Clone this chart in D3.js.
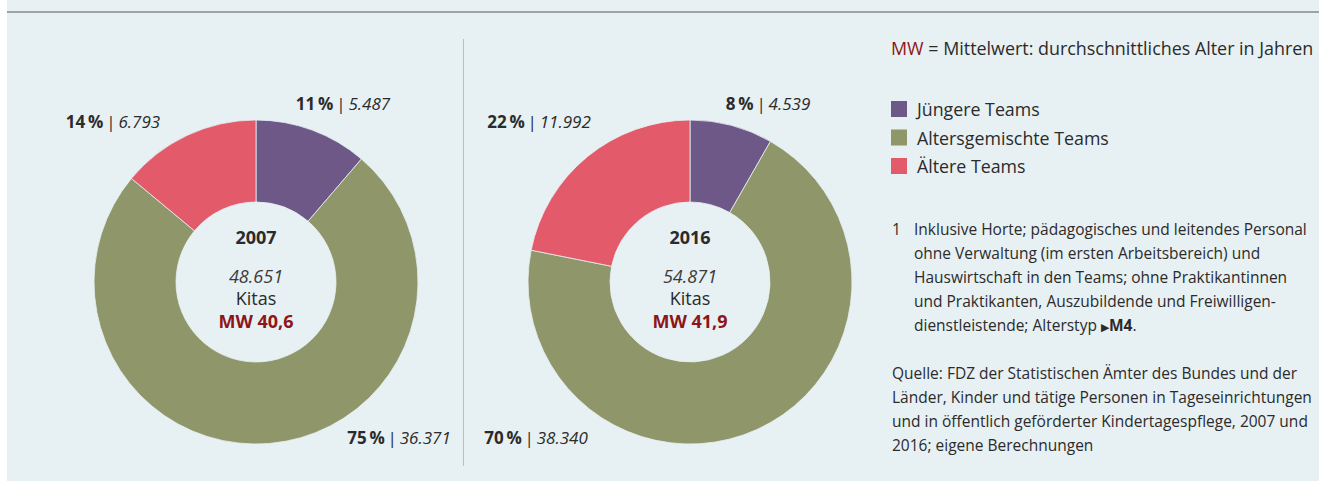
<!DOCTYPE html>
<html lang="de">
<head>
<meta charset="utf-8">
<script src="https://cdn.jsdelivr.net/npm/d3@7"></script>
<style>
  html, body { margin: 0; padding: 0; background: #ffffff; }
  svg { display: block; font-family: "Open Sans", "Noto Sans", sans-serif; }
</style>
</head>
<body>
<svg id="chart" width="1319" height="481"></svg>
<script>
// Team age types of Kitas, 2007 and 2016
const categories = ["Jüngere Teams", "Altersgemischte Teams", "Ältere Teams"];
const colors = ["#6d5888", "#8f966a", "#e35a6a"];
const years = ["2007", "2016"];
const counts2007 = [5487, 36371, 6793];
const counts2016 = [4539, 38340, 11992];
const shares2007 = [11, 75, 14];
const shares2016 = [8, 70, 22];
const totals = [48651, 54871];
const meanAge = ["40,6", "41,9"];

const footnote = [
  "Inklusive Horte; pädagogisches und leitendes Personal",
  "ohne Verwaltung (im ersten Arbeitsbereich) und",
  "Hauswirtschaft in den Teams; ohne Praktikantinnen",
  "und Praktikanten, Auszubildende und Freiwilligen-",
  "dienstleistende; Alterstyp "
];
const source = [
  "Quelle: FDZ der Statistischen Ämter des Bundes und der",
  "Länder, Kinder und tätige Personen in Tageseinrichtungen",
  "und in öffentlich geförderter Kindertagespflege, 2007 und",
  "2016; eigene Berechnungen"
];

const svg = d3.select("#chart");
const fmt = d3.formatLocale({ decimal: ",", thousands: ".", grouping: [3], currency: ["", "€"] }).format(",d");
const textColor = "#2b2b2b";
const mwColor = "#8e1518";

// panel background and top rule
svg.append("rect").attr("x", 7).attr("y", 0).attr("width", 1312).attr("height", 481).attr("fill", "#e7f0f3");
svg.append("rect").attr("x", 7).attr("y", 11).attr("width", 1312).attr("height", 2).attr("fill", "#9ea3a5");

// divider between the two donuts
svg.append("line").attr("x1", 463.5).attr("x2", 463.5).attr("y1", 39).attr("y2", 466)
  .attr("stroke", "#b9bec0").attr("stroke-width", 1);

const pie = d3.pie().sort(null).value(d => d);
const arc = d3.arc().innerRadius(80).outerRadius(162);

const donuts = [
  { year: years[0], counts: counts2007, shares: shares2007, total: totals[0], mw: meanAge[0], cx: 256,
    labelPos: [[87, -177], [143, 157], [-143, -159]] },
  { year: years[1], counts: counts2016, shares: shares2016, total: totals[1], mw: meanAge[1], cx: 690,
    labelPos: [[78, -177], [-154, 157], [-151, -159]] }
];
const cy = 282;

donuts.forEach(dn => {
  const g = svg.append("g").attr("transform", `translate(${dn.cx},${cy})`);
  g.selectAll("path").data(pie(dn.counts)).join("path")
    .attr("d", arc)
    .attr("fill", (d, i) => colors[i])
    .attr("stroke", "#e7f0f3").attr("stroke-width", 0.8);

  // slice labels: share in bold, count in italics
  dn.counts.forEach((c, i) => {
    const t = g.append("text")
      .attr("x", dn.labelPos[i][0]).attr("y", dn.labelPos[i][1])
      .attr("text-anchor", "middle").attr("dominant-baseline", "middle")
      .attr("font-size", 17).attr("fill", textColor);
    t.append("tspan").attr("font-weight", 700).text(dn.shares[i] + "\u2009%");
    t.append("tspan").text("\u2009|\u2009");
    t.append("tspan").attr("font-style", "italic").text(fmt(c));
  });

  // centre text
  const cs = 18;
  g.append("text").attr("y", -38).attr("text-anchor", "middle").attr("font-size", cs)
    .attr("font-weight", 700).attr("fill", textColor).text(dn.year);
  g.append("text").attr("y", 1).attr("text-anchor", "middle").attr("font-size", cs)
    .attr("font-style", "italic").attr("fill", "#3a3a3a").text(fmt(dn.total));
  g.append("text").attr("y", 23).attr("text-anchor", "middle").attr("font-size", cs)
    .attr("fill", textColor).text("Kitas");
  g.append("text").attr("y", 46).attr("text-anchor", "middle").attr("font-size", cs)
    .attr("font-weight", 700).attr("fill", mwColor).text("MW " + dn.mw);
});

// legend
const lx = 891;
const mwLine = svg.append("text").attr("x", lx).attr("y", 55).attr("font-size", 17.9).attr("fill", textColor);
mwLine.append("tspan").attr("fill", mwColor).text("MW");
mwLine.append("tspan").text(" = Mittelwert: durchschnittliches Alter in Jahren");

const legend = svg.append("g");
categories.forEach((c, i) => {
  const y = 101 + i * 28.5;
  legend.append("rect").attr("x", lx).attr("y", y).attr("width", 16).attr("height", 16).attr("fill", colors[i]);
  legend.append("text").attr("x", 917).attr("y", y + 15).attr("font-size", 17.8).attr("fill", textColor).text(c);
});

// footnote and source
const fs = 15.5;
svg.append("text").attr("x", 892).attr("y", 235).attr("font-size", fs).attr("fill", textColor).text("1");
footnote.forEach((line, i) => {
  const t = svg.append("text").attr("x", 914).attr("y", 235 + i * 24).attr("font-size", fs).attr("fill", textColor).text(line);
  if (i === footnote.length - 1) {
    t.append("tspan").attr("font-size", 11).text("\u25B6");
    t.append("tspan").attr("font-weight", 700).text("M4");
    t.append("tspan").text(".");
  }
});
source.forEach((line, i) => {
  svg.append("text").attr("x", 892).attr("y", 379 + i * 24).attr("font-size", fs).attr("fill", textColor).text(line);
});
</script>
</body>
</html>
